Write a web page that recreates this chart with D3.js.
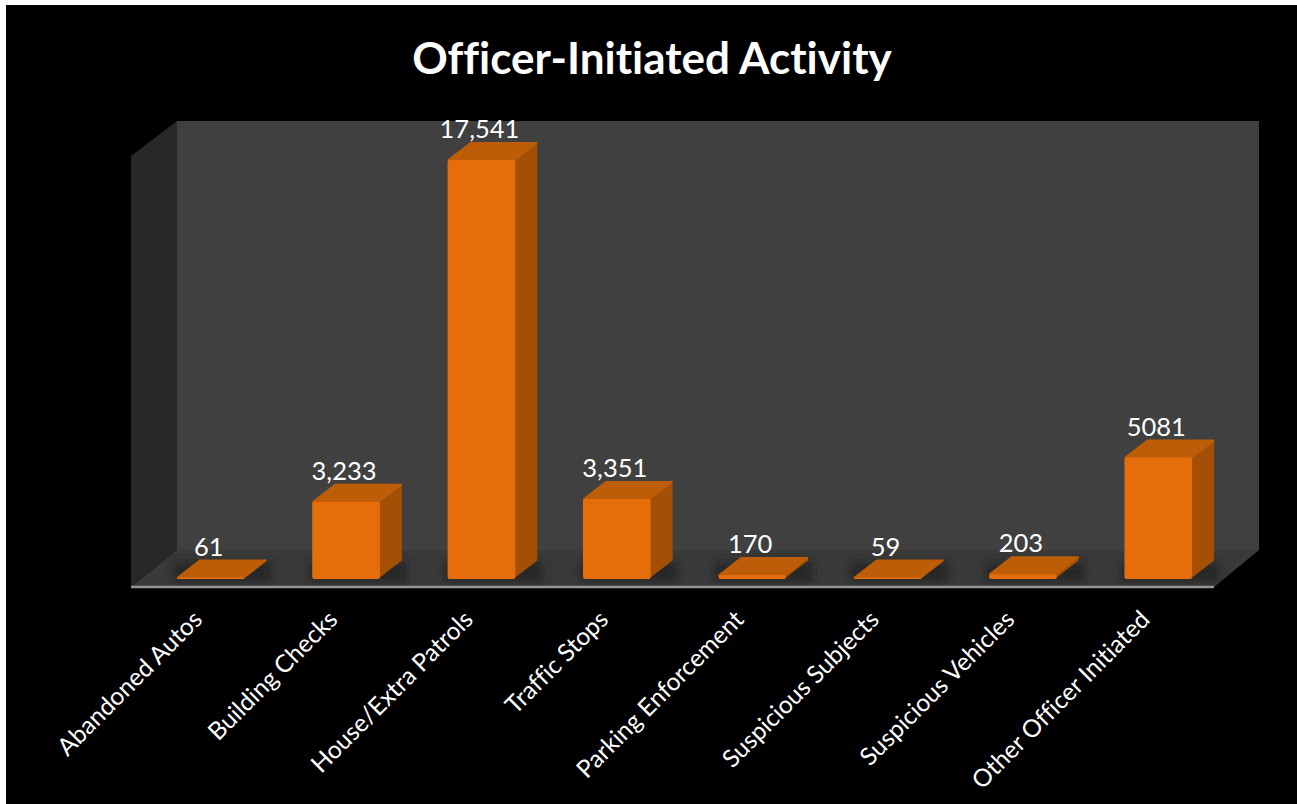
<!DOCTYPE html>
<html><head><meta charset="utf-8">
<script src="https://cdn.jsdelivr.net/npm/d3@7/dist/d3.min.js"></script>
<style>html,body{margin:0;padding:0;background:#fff;overflow:hidden}svg{display:block}text{font-variant-ligatures:none}</style>
</head><body><svg id="c" width="1297" height="804"></svg>
<script>
const categories=["Abandoned Autos","Building Checks","House/Extra Patrols","Traffic Stops","Parking Enforcement","Suspicious Subjects","Suspicious Vehicles","Other Officer Initiated"];
const values=[61,3233,17541,3351,170,59,203,5081];
const valueLabels=["61","3,233","17,541","3,351","170","59","203","5081"];
const title="Officer-Initiated Activity";

const svg=d3.select("#c");
const defs=svg.append("defs");
defs.append("filter").attr("id","blur").attr("filterUnits","userSpaceOnUse")
  .attr("x",100).attr("y",500).attr("width",1197).attr("height",120)
  .append("feGaussianBlur").attr("stdDeviation",5);
const W=1297,H=804;
const font="Lato, Carlito, Calibri, sans-serif";
svg.append("rect").attr("x",6).attr("y",5).attr("width",W-6).attr("height",H-5).attr("fill","#000");

const x=d3.scaleBand().domain(categories).range([143,1226]).paddingInner(.5).paddingOuter(.25);
const y=d3.scaleLinear().domain([0,18000]).range([579,149]);
const dx=22,dy=17; // bar depth
const L=131,R=1214,Fy=587,Bx=46,By=37,T=156;
const poly=pts=>pts.map(p=>p.join(",")).join(" ");

// walls
svg.append("polygon").attr("points",poly([[L,T],[L+Bx,121],[L+Bx,Fy-By],[L,Fy]])).attr("fill","#282828");
svg.append("polygon").attr("points",poly([[L+Bx,121],[R+45,121],[R+45,Fy-By],[L+Bx,Fy-By]])).attr("fill","#404040");
const floorClip=defs.append("clipPath").attr("id","floor");
floorClip.append("polygon").attr("points",poly([[L,Fy],[L+Bx,Fy-By],[R+45,Fy-By],[R,Fy]]));
const floor=svg.append("g").attr("clip-path","url(#floor)");
floor.append("rect").attr("x",L).attr("y",Fy-By).attr("width",R+45-L).attr("height",By).attr("fill","#3a3a3a");
// soft shadows around bars on the floor
floor.selectAll("rect.s").data(categories).join("rect").attr("class","s")
 .attr("x",d=>x(d)-4).attr("width",x.bandwidth()+dx+10).attr("y",562).attr("height",20)
 .attr("fill","#262626").attr("filter","url(#blur)");
svg.append("line").attr("x1",L).attr("x2",R).attr("y1",Fy).attr("y2",Fy).attr("stroke","#969696").attr("stroke-width",2.5);

// bars
const bars=svg.append("g").selectAll("g").data(categories).join("g");
bars.append("polygon").attr("fill","#a34f06").attr("stroke","#a34f06").attr("stroke-width",2).attr("stroke-linejoin","round")
 .attr("points",(d,i)=>{const a=x(d)+x.bandwidth()-1,t=y(values[i]),b=y(0)-2;return poly([[a,t],[a+dx,t-dy],[a+dx,b-dy],[a,b]]);});
bars.append("polygon").attr("fill","#bd5d08").attr("stroke","#bd5d08").attr("stroke-width",2).attr("stroke-linejoin","round")
 .attr("points",(d,i)=>{const a=x(d)+1,w=x.bandwidth()-2,t=y(values[i]);return poly([[a,t],[a+w,t],[a+w+dx,t-dy],[a+dx,t-dy]]);});
bars.append("rect").attr("x",d=>x(d)).attr("width",x.bandwidth())
 .attr("y",(d,i)=>y(values[i])).attr("height",(d,i)=>y(0)-y(values[i])).attr("rx",2)
 .attr("fill","#e56e0a");

// value labels
svg.append("g").selectAll("text").data(categories).join("text")
 .attr("x",d=>x(d)+x.bandwidth()/2-2)
 .attr("y",(d,i)=>y(values[i])-dy-5)
 .attr("text-anchor","middle").attr("font-family",font).attr("font-size",25.5).attr("fill","#fff")
 .text((d,i)=>valueLabels[i]);

// axis labels
const axis=svg.append("g").attr("transform",`translate(0,${Fy})`).call(d3.axisBottom(x).tickSize(0).tickPadding(0));
axis.select(".domain").remove();
axis.selectAll(".tick text")
 .attr("font-family",font).attr("font-size",24.5).attr("fill","#fff")
 .attr("text-anchor","end").attr("dy",0)
 .attr("transform",`translate(-7,34) rotate(-45)`);

svg.append("text").attr("x",652).attr("y",74).attr("text-anchor","middle")
 .attr("font-family",font).attr("font-weight",700).attr("font-size",44).attr("fill","#fff").text(title);
</script></body></html>
